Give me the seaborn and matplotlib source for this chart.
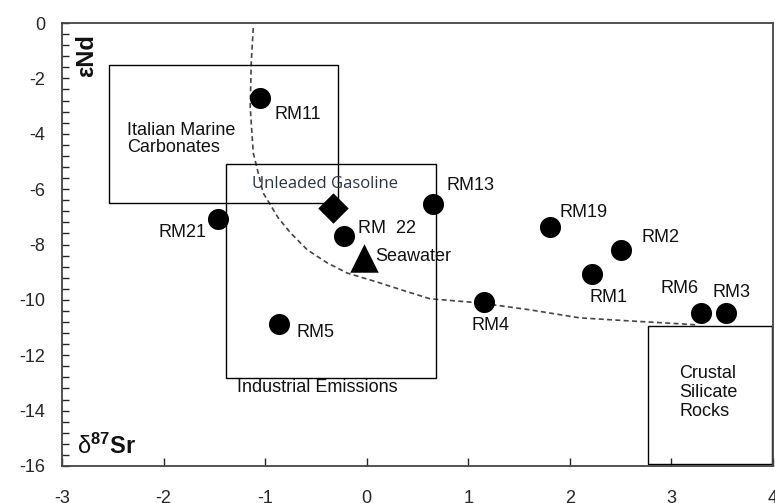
import pandas as pd
import matplotlib
matplotlib.use('Agg')
import matplotlib.pyplot as plt
import matplotlib.patches as patches
from matplotlib.ticker import MultipleLocator
import seaborn as sns

# samples (d87Sr, eNd)
sample_names = ['RM11', 'RM21', 'RM22', 'RM13', 'RM5', 'RM4', 'RM19', 'RM2', 'RM1', 'RM6', 'RM3']
sample_sr = [-1.05, -1.46, -0.22, 0.65, -0.86, 1.15, 1.80, 2.50, 2.22, 3.29, 3.54]
sample_nd = [-2.71, -7.08, -7.69, -6.53, -10.87, -10.07, -7.36, -8.19, -9.06, -10.47, -10.47]
sample_text = ['RM11', 'RM21', 'RM  22', 'RM13', 'RM5', 'RM4', 'RM19', 'RM2', 'RM1', 'RM6', 'RM3']
label_x = [-0.91, -2.05, -0.09, 0.79, -0.69, 1.03, 1.90, 2.71, 2.19, 2.89, 3.40]
label_y = [-3.32, -7.55, -7.44, -5.88, -11.19, -10.94, -6.86, -7.76, -9.93, -9.60, -9.75]

gasoline = (-0.33, -6.68)
seawater = (-0.03, -8.48)

# mixing curve
curve_sr = [-1.117, -1.137, -1.147, -1.117, -1.019, -0.871, -0.75, -0.586, -0.39, -0.193,
            0.132, 0.377, 0.623, 1.115, 1.607, 2.098, 2.590, 3.111, 3.239]
curve_nd = [-0.18, -1.44, -3.03, -4.69, -6.14, -7.04, -7.58, -8.19, -8.66, -9.03,
            -9.39, -9.68, -9.96, -10.11, -10.36, -10.65, -10.76, -10.87, -10.90]

# source fields: (x0, x1, y0, y1)
boxes = {
    'Italian Marine\nCarbonates': (-2.54, -0.28, -6.50, -1.52),
    'Industrial Emissions': (-1.39, 0.68, -12.82, -5.09),
    'Crustal\nSilicate\nRocks': (2.77, 3.995, -15.93, -10.94),
}

sns.set_style('white')
plt.rcParams['font.family'] = ['Liberation Sans', 'DejaVu Sans']
plt.rcParams['axes.unicode_minus'] = False
plt.rcParams['mathtext.fontset'] = 'custom'
plt.rcParams['mathtext.rm'] = 'Liberation Sans'
plt.rcParams['mathtext.it'] = 'Liberation Sans:italic'
plt.rcParams['mathtext.bf'] = 'Liberation Sans:bold'

TXT = '#111111'

fig = plt.figure(figsize=(7.75, 5.03), dpi=100)
ax = fig.add_axes([62 / 775, (503 - 466) / 503, (773 - 62) / 775, (466 - 23) / 503])

df_curve = pd.DataFrame({'sr': curve_sr, 'nd': curve_nd})
sns.lineplot(data=df_curve, x='sr', y='nd', sort=False, estimator=None, ax=ax,
             color='#444444', linewidth=1.2, linestyle=(0, (3, 2)))

for label, (x0, x1, y0, y1) in boxes.items():
    ax.add_patch(patches.Rectangle((x0, y0), x1 - x0, y1 - y0, fill=False,
                                   edgecolor='black', linewidth=1.0, zorder=2))

df = pd.DataFrame({'sr': sample_sr, 'nd': sample_nd})
sns.scatterplot(data=df, x='sr', y='nd', ax=ax, color='black', s=230,
                edgecolor='black', linewidth=0, zorder=4)
sns.scatterplot(x=[gasoline[0]], y=[gasoline[1]], ax=ax, marker='D', color='black',
                s=240, linewidth=0, zorder=4)
sns.scatterplot(x=[seawater[0]], y=[seawater[1]], ax=ax, marker='^', color='black',
                s=420, linewidth=0, zorder=4)

for t, lx, ly in zip(sample_text, label_x, label_y):
    ax.text(lx, ly, t, fontsize=13, color=TXT, va='center', ha='left')

ax.text(0.08, -8.45, 'Seawater', fontsize=13, color=TXT, va='center', ha='left')
ax.text(-1.13, -5.81, 'Unleaded Gasoline', fontsize=12, color='#2a3340',
        va='center', ha='left', family=['Open Sans', 'DejaVu Sans'])
ax.text(-2.36, -4.19, 'Italian Marine\nCarbonates', fontsize=13, color=TXT,
        va='center', ha='left', linespacing=1.05)
ax.text(-1.28, -13.18, 'Industrial Emissions', fontsize=13, color=TXT,
        va='center', ha='left')
ax.text(3.08, -13.36, 'Crustal\nSilicate\nRocks', fontsize=13, color=TXT,
        va='center', ha='left', linespacing=1.15)

ax.text(-2.85, -15.3, r'$\mathrm{\delta}^{\mathbf{87}}\mathbf{Sr}$', fontsize=17,
        color=TXT, va='center', ha='left')
ax.text(-2.76, -1.19, 'εNd', fontsize=17, fontweight='bold', color=TXT,
        rotation=90, va='center', ha='center')

ax.set_xlim(-3, 4)
ax.set_ylim(-16, 0)
ax.xaxis.set_major_locator(MultipleLocator(1))
ax.yaxis.set_major_locator(MultipleLocator(2))
ax.yaxis.set_minor_locator(MultipleLocator(0.4))
ax.tick_params(axis='x', which='major', direction='in', length=6, width=1,
               labelsize=13, pad=17, bottom=True, top=False)
ax.tick_params(axis='y', which='both', direction='in', length=5, width=1,
               labelsize=13, pad=12, left=True, right=False)
ax.set_xlabel('')
ax.set_ylabel('')
for side, sp in ax.spines.items():
    sp.set_color('#444444')
    sp.set_linewidth(1.3)

fig.savefig('out.png', dpi=100)
